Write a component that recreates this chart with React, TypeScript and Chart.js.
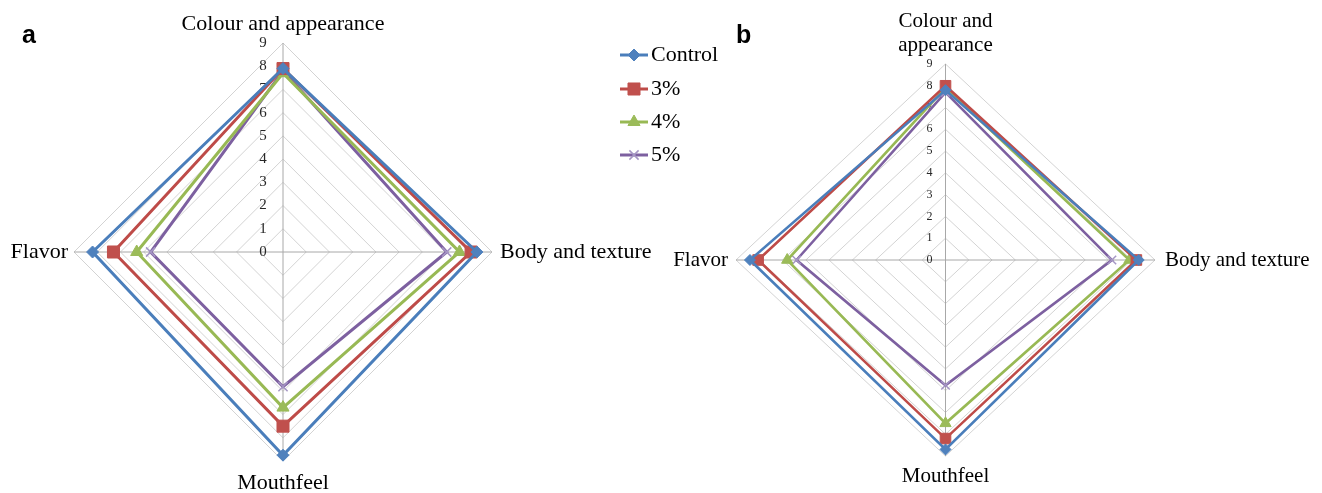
import React, { useEffect, useRef } from 'react';
import { Chart, registerables } from 'chart.js';
import { drawPoint } from 'chart.js/helpers';

Chart.register(...registerables);

// ---------- data ----------
const categories = ['Colour and appearance', 'Body and texture', 'Mouthfeel', 'Flavor'];
const tickValues = [0, 1, 2, 3, 4, 5, 6, 7, 8, 9];
const seriesNames = ['Control', '3%', '4%', '5%'];

// panel a
const aControl = [7.9, 8.35, 8.75, 8.2];
const a3 = [7.9, 8.1, 7.5, 7.3];
const a4 = [7.7, 7.6, 6.7, 6.3];
const a5 = [7.8, 7.05, 5.8, 5.7];

// panel b
const bControl = [7.8, 8.3, 8.7, 8.4];
const b3 = [8.0, 8.2, 8.2, 8.05];
const b4 = [7.9, 7.9, 7.5, 6.8];
const b5 = [7.7, 7.15, 5.75, 6.4];

// ---------- styles ----------
const lineColors = ['#4A7EBB', '#BE4B48', '#98B954', '#7D60A0'];
const markerFill = ['#4F81BD', '#C0504D', '#9BBB59', '#A596C4'];
const markerStyles = ['rectRot', 'rect', 'triangle', 'crossRot'];
const markerRadiusA = [6, 8.5, 7, 6.5];
const markerRadiusB = [5.5, 7.5, 6.5, 6];

const SERIF = '"Liberation Serif", "Times New Roman", "DejaVu Serif", serif';
const SANS = '"Liberation Sans", Arial, "DejaVu Sans", sans-serif';

type Placement = { lines: string[]; align: CanvasTextAlign; dx: number; dy: number; lineGap?: number; baseline: CanvasTextBaseline };

type PanelCfg = {
  cx: number; cy: number; r: number; sx: number;
  lineWidth: number; radii: number[];
  tickFont: number; tickDx: number;
  labelFont: number; placements: Placement[];
  letter: string; letterX: number; letterY: number;
  legend: boolean;
  series: number[][];
};

const panelA: PanelCfg = {
  cx: 283, cy: 252, r: 209, sx: 1,
  lineWidth: 3, radii: markerRadiusA,
  tickFont: 15, tickDx: -20,
  labelFont: 22,
  placements: [
    { lines: ['Colour and appearance'], align: 'center', dx: 0, dy: -13, baseline: 'alphabetic' },
    { lines: ['Body and texture'], align: 'left', dx: 8, dy: 0, baseline: 'middle' },
    { lines: ['Mouthfeel'], align: 'center', dx: 0, dy: 28, baseline: 'alphabetic' },
    { lines: ['Flavor'], align: 'right', dx: -6, dy: 0, baseline: 'middle' },
  ],
  letter: 'a', letterX: 22, letterY: 43,
  legend: true,
  series: [aControl, a3, a4, a5],
};

const panelB: PanelCfg = {
  cx: 945.5, cy: 260, r: 196, sx: 209.5 / 196,
  lineWidth: 2.6, radii: markerRadiusB,
  tickFont: 12, tickDx: -16,
  labelFont: 21,
  placements: [
    { lines: ['Colour and', 'appearance'], align: 'center', dx: 0, dy: -37, lineGap: 24, baseline: 'alphabetic' },
    { lines: ['Body and texture'], align: 'left', dx: 10, dy: 0, baseline: 'middle' },
    { lines: ['Mouthfeel'], align: 'center', dx: 0, dy: 25.5, baseline: 'alphabetic' },
    { lines: ['Flavor'], align: 'right', dx: -8, dy: 0, baseline: 'middle' },
  ],
  letter: 'b', letterX: 736, letterY: 43,
  legend: false,
  series: [bControl, b3, b4, b5],
};

const legendRowsY = [55, 89, 122, 155];

function makeDecor(cfg: PanelCfg) {
  return {
    id: 'decor' + cfg.letter,
    beforeDatasetsDraw(chart: any) {
      const scale = chart.scales.r;
      const ctx: CanvasRenderingContext2D = chart.ctx;
      ctx.save();
      ctx.font = `${cfg.tickFont}px ${SERIF}`;
      ctx.fillStyle = '#262626';
      ctx.textAlign = 'center';
      ctx.textBaseline = 'middle';
      tickValues.forEach((v) => {
        const p = scale.getPointPosition(0, scale.getDistanceFromCenterForValue(v));
        ctx.fillText(String(v), p.x + cfg.tickDx, p.y);
      });
      ctx.restore();
    },
    afterDraw(chart: any) {
      const scale = chart.scales.r;
      const ctx: CanvasRenderingContext2D = chart.ctx;
      ctx.save();
      ctx.fillStyle = '#000';
      ctx.font = `${cfg.labelFont}px ${SERIF}`;
      cfg.placements.forEach((pl, i) => {
        const p = scale.getPointPosition(i, scale.drawingArea);
        ctx.textAlign = pl.align;
        ctx.textBaseline = pl.baseline;
        pl.lines.forEach((ln, k) => {
          ctx.fillText(ln, p.x + pl.dx, p.y + pl.dy + k * (pl.lineGap || 0));
        });
      });
      // panel letter
      ctx.font = `bold 25px ${SANS}`;
      ctx.textAlign = 'left';
      ctx.textBaseline = 'alphabetic';
      ctx.fillText(cfg.letter, cfg.letterX, cfg.letterY);

      if (cfg.legend) {
        chart.data.datasets.forEach((ds: any, i: number) => {
          const y = legendRowsY[i];
          ctx.strokeStyle = lineColors[i];
          ctx.lineWidth = 3;
          ctx.beginPath();
          ctx.moveTo(620, y);
          ctx.lineTo(648, y);
          ctx.stroke();
          ctx.fillStyle = markerFill[i];
          ctx.strokeStyle = markerFill[i];
          ctx.lineWidth = i === 3 ? 1.5 : 1;
          drawPoint(ctx, { pointStyle: markerStyles[i] as any, radius: cfg.radii[i], rotation: 0, borderWidth: ctx.lineWidth } as any, 634, y);
          ctx.fillStyle = '#000';
          ctx.font = `22px ${SERIF}`;
          ctx.textAlign = 'left';
          ctx.textBaseline = 'middle';
          ctx.fillText(ds.label, 651, y);
        });
      }
      ctx.restore();
    },
  };
}

function RadarPanel({ cfg }: { cfg: PanelCfg }) {
  const ref = useRef<HTMLCanvasElement>(null);
  useEffect(() => {
    const datasets = cfg.series.map((vals, i) => ({
      label: seriesNames[i],
      data: vals,
      borderColor: lineColors[i],
      backgroundColor: lineColors[i],
      borderWidth: cfg.lineWidth,
      fill: false,
      tension: 0,
      pointStyle: markerStyles[i] as any,
      pointRadius: cfg.radii[i],
      pointBackgroundColor: markerFill[i],
      pointBorderColor: markerFill[i],
      pointBorderWidth: i === 3 ? 1.5 : 1,
    }));
    const chart = new Chart(ref.current as HTMLCanvasElement, {
      type: 'radar',
      data: { labels: categories, datasets },
      options: {
        responsive: false,
        animation: false,
        events: [],
        plugins: { legend: { display: false }, tooltip: { enabled: false } },
        scales: {
          r: {
            min: 0,
            max: 9,
            ticks: { display: false, stepSize: 1 },
            pointLabels: { display: false },
            grid: { color: '#d3d3d3', lineWidth: 1 },
            angleLines: { color: '#a8a8a8', lineWidth: 1 },
            afterFit: (scale: any) => {
              scale.xCenter = cfg.cx;
              scale.yCenter = cfg.cy;
              scale.drawingArea = cfg.r;
              if (cfg.sx !== 1) {
                scale.getPointPosition = function (index: number, distance: number, additionalAngle = 0) {
                  const angle = this.getIndexAngle(index) - Math.PI / 2 + additionalAngle;
                  return {
                    x: Math.cos(angle) * distance * cfg.sx + this.xCenter,
                    y: Math.sin(angle) * distance + this.yCenter,
                    angle,
                  };
                };
              }
            },
          } as any,
        },
      },
      plugins: [makeDecor(cfg)],
    });
    return () => chart.destroy();
  }, []);
  return <canvas ref={ref} width={1322} height={493} style={{ position: 'absolute', left: 0, top: 0 }} />;
}

export default function App() {
  return (
    <div style={{ position: 'fixed', left: 0, top: 0, width: 1322, height: 493, background: '#fff', overflow: 'hidden' }}>
      <RadarPanel cfg={panelA} />
      <RadarPanel cfg={panelB} />
    </div>
  );
}
